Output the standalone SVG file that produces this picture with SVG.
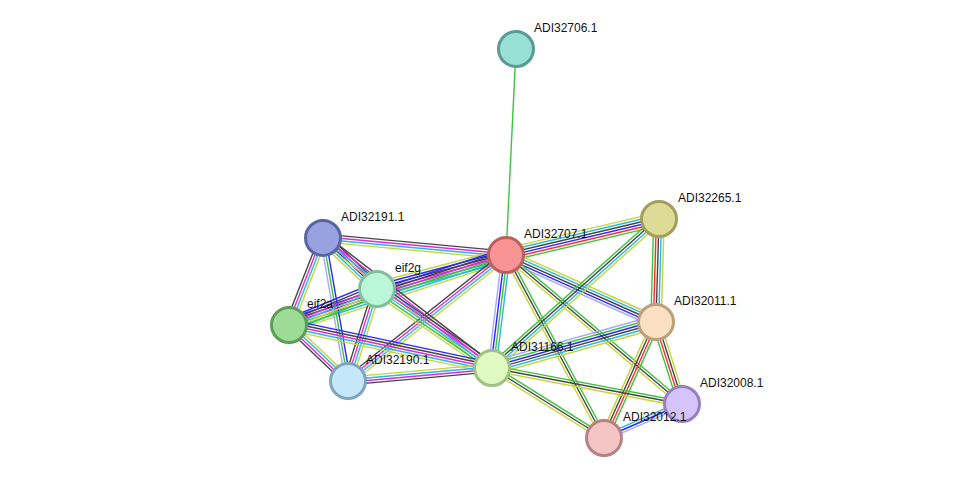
<svg xmlns="http://www.w3.org/2000/svg" width="975" height="484" viewBox="0 0 975 484">
<style>
line{stroke-width:1.4;fill:none}
.g{stroke:#3cc43c}.r{stroke:#ff2a2a}.b{stroke:#2828ff}.k{stroke:#454545}.m{stroke:#e028e0}.c{stroke:#28b8e0}.y{stroke:#c4d636}.l{stroke:#a8a8ff}
.n circle{stroke-width:3}
text{font-family:"Liberation Sans",Arial,sans-serif;font-size:12px;fill:#111}
</style>
<rect width="975" height="484" fill="#fff"/>
<g id="edges">
<line class="g" x1="506" y1="255" x2="516" y2="49"/>
<g transform="translate(506 255) rotate(-13.24)"><line class="y" x2="157.2" y1="-6.5" y2="-6.5"/><line class="c" x2="157.2" y1="-3.9" y2="-3.9"/><line class="k" x2="157.2" y1="-1.3" y2="-1.3"/><line class="b" x2="157.2" y1="1.3" y2="1.3"/><line class="r" x2="157.2" y1="3.9" y2="3.9"/><line class="g" x2="157.2" y1="6.5" y2="6.5"/></g>
<g transform="translate(506 255) rotate(24.07)"><line class="y" x2="164.3" y1="-5.2" y2="-5.2"/><line class="c" x2="164.3" y1="-2.6" y2="-2.6"/><line class="k" x2="164.3" y1="0" y2="0"/><line class="b" x2="164.3" y1="2.6" y2="2.6"/><line class="l" x2="164.3" y1="5.2" y2="5.2"/></g>
<g transform="translate(506 255) rotate(40.25)"><line class="g" x2="230.6" y1="-2.6" y2="-2.6"/><line class="k" x2="230.6" y1="0" y2="0"/><line class="y" x2="230.6" y1="2.6" y2="2.6"/></g>
<g transform="translate(506 255) rotate(61.83)"><line class="g" x2="207.6" y1="-2.6" y2="-2.6"/><line class="k" x2="207.6" y1="0" y2="0"/><line class="y" x2="207.6" y1="2.6" y2="2.6"/></g>
<g transform="translate(506 255) rotate(97.06)"><line class="c" x2="113.9" y1="-3.9" y2="-3.9"/><line class="g" x2="113.9" y1="-1.3" y2="-1.3"/><line class="b" x2="113.9" y1="1.3" y2="1.3"/><line class="l" x2="113.9" y1="3.9" y2="3.9"/></g>
<g transform="translate(323 238) rotate(5.31)"><line class="k" x2="183.8" y1="-3.9" y2="-3.9"/><line class="m" x2="183.8" y1="-1.3" y2="-1.3"/><line class="c" x2="183.8" y1="1.3" y2="1.3"/><line class="y" x2="183.8" y1="3.9" y2="3.9"/></g>
<g transform="translate(377 289) rotate(-14.77)"><line class="y" x2="133.4" y1="-6.5" y2="-6.5"/><line class="b" x2="133.4" y1="-3.9" y2="-3.9"/><line class="k" x2="133.4" y1="-1.3" y2="-1.3"/><line class="m" x2="133.4" y1="1.3" y2="1.3"/><line class="g" x2="133.4" y1="3.9" y2="3.9"/><line class="c" x2="133.4" y1="6.5" y2="6.5"/></g>
<g transform="translate(289 325) rotate(-17.88)"><line class="b" x2="228" y1="-6.5" y2="-6.5"/><line class="k" x2="228" y1="-3.9" y2="-3.9"/><line class="m" x2="228" y1="-1.3" y2="-1.3"/><line class="g" x2="228" y1="1.3" y2="1.3"/><line class="c" x2="228" y1="3.9" y2="3.9"/><line class="y" x2="228" y1="6.5" y2="6.5"/></g>
<g transform="translate(348 381) rotate(-38.57)"><line class="k" x2="202.1" y1="-3.9" y2="-3.9"/><line class="m" x2="202.1" y1="-1.3" y2="-1.3"/><line class="c" x2="202.1" y1="1.3" y2="1.3"/><line class="y" x2="202.1" y1="3.9" y2="3.9"/></g>
<g transform="translate(492 368) rotate(-41.74)"><line class="g" x2="223.8" y1="-3.9" y2="-3.9"/><line class="k" x2="223.8" y1="-1.3" y2="-1.3"/><line class="c" x2="223.8" y1="1.3" y2="1.3"/><line class="y" x2="223.8" y1="3.9" y2="3.9"/></g>
<g transform="translate(659 219) rotate(91.67)"><line class="y" x2="103" y1="-5.2" y2="-5.2"/><line class="c" x2="103" y1="-2.6" y2="-2.6"/><line class="k" x2="103" y1="0" y2="0"/><line class="r" x2="103" y1="2.6" y2="2.6"/><line class="g" x2="103" y1="5.2" y2="5.2"/></g>
<g transform="translate(492 368) rotate(-15.67)"><line class="l" x2="170.3" y1="-6.5" y2="-6.5"/><line class="g" x2="170.3" y1="-3.9" y2="-3.9"/><line class="b" x2="170.3" y1="-1.3" y2="-1.3"/><line class="k" x2="170.3" y1="1.3" y2="1.3"/><line class="c" x2="170.3" y1="3.9" y2="3.9"/><line class="y" x2="170.3" y1="6.5" y2="6.5"/></g>
<g transform="translate(656 322) rotate(114.15)"><line class="g" x2="127.1" y1="-3.9" y2="-3.9"/><line class="r" x2="127.1" y1="-1.3" y2="-1.3"/><line class="k" x2="127.1" y1="1.3" y2="1.3"/><line class="y" x2="127.1" y1="3.9" y2="3.9"/></g>
<g transform="translate(656 322) rotate(72.41)"><line class="y" x2="86" y1="-3.9" y2="-3.9"/><line class="k" x2="86" y1="-1.3" y2="-1.3"/><line class="r" x2="86" y1="1.3" y2="1.3"/><line class="g" x2="86" y1="3.9" y2="3.9"/></g>
<g transform="translate(492 368) rotate(10.73)"><line class="g" x2="193.4" y1="-2.6" y2="-2.6"/><line class="k" x2="193.4" y1="0" y2="0"/><line class="y" x2="193.4" y1="2.6" y2="2.6"/></g>
<g transform="translate(492 368) rotate(32.01)"><line class="g" x2="132.1" y1="-2.6" y2="-2.6"/><line class="k" x2="132.1" y1="0" y2="0"/><line class="y" x2="132.1" y1="2.6" y2="2.6"/></g>
<g transform="translate(604 438) rotate(-23.55)"><line class="c" x2="85.1" y1="-2.6" y2="-2.6"/><line class="b" x2="85.1" y1="0" y2="0"/><line class="l" x2="85.1" y1="2.6" y2="2.6"/></g>
<g transform="translate(323 238) rotate(43.36)"><line class="k" x2="74.3" y1="-5.2" y2="-5.2"/><line class="m" x2="74.3" y1="-2.6" y2="-2.6"/><line class="b" x2="74.3" y1="0" y2="0"/><line class="c" x2="74.3" y1="2.6" y2="2.6"/><line class="y" x2="74.3" y1="5.2" y2="5.2"/></g>
<g transform="translate(323 238) rotate(111.34)"><line class="y" x2="93.4" y1="-3.9" y2="-3.9"/><line class="c" x2="93.4" y1="-1.3" y2="-1.3"/><line class="m" x2="93.4" y1="1.3" y2="1.3"/><line class="k" x2="93.4" y1="3.9" y2="3.9"/></g>
<g transform="translate(323 238) rotate(80.08)"><line class="b" x2="145.2" y1="-2.6" y2="-2.6"/><line class="g" x2="145.2" y1="0" y2="0"/><line class="l" x2="145.2" y1="2.6" y2="2.6"/></g>
<g transform="translate(323 238) rotate(37.57)"><line class="k" x2="213.2" y1="-3.9" y2="-3.9"/><line class="m" x2="213.2" y1="-1.3" y2="-1.3"/><line class="c" x2="213.2" y1="1.3" y2="1.3"/><line class="y" x2="213.2" y1="3.9" y2="3.9"/></g>
<g transform="translate(289 325) rotate(-22.25)"><line class="b" x2="95.1" y1="-6.5" y2="-6.5"/><line class="k" x2="95.1" y1="-3.9" y2="-3.9"/><line class="m" x2="95.1" y1="-1.3" y2="-1.3"/><line class="c" x2="95.1" y1="1.3" y2="1.3"/><line class="y" x2="95.1" y1="3.9" y2="3.9"/><line class="g" x2="95.1" y1="6.5" y2="6.5"/></g>
<g transform="translate(377 289) rotate(107.5)"><line class="y" x2="96.5" y1="-3.9" y2="-3.9"/><line class="c" x2="96.5" y1="-1.3" y2="-1.3"/><line class="m" x2="96.5" y1="1.3" y2="1.3"/><line class="k" x2="96.5" y1="3.9" y2="3.9"/></g>
<g transform="translate(377 289) rotate(34.49)"><line class="k" x2="139.5" y1="-5.2" y2="-5.2"/><line class="m" x2="139.5" y1="-2.6" y2="-2.6"/><line class="c" x2="139.5" y1="0" y2="0"/><line class="g" x2="139.5" y1="2.6" y2="2.6"/><line class="y" x2="139.5" y1="5.2" y2="5.2"/></g>
<g transform="translate(289 325) rotate(43.51)"><line class="y" x2="81.3" y1="-3.9" y2="-3.9"/><line class="c" x2="81.3" y1="-1.3" y2="-1.3"/><line class="m" x2="81.3" y1="1.3" y2="1.3"/><line class="k" x2="81.3" y1="3.9" y2="3.9"/></g>
<g transform="translate(289 325) rotate(11.96)"><line class="b" x2="207.5" y1="-5.2" y2="-5.2"/><line class="k" x2="207.5" y1="-2.6" y2="-2.6"/><line class="m" x2="207.5" y1="0" y2="0"/><line class="c" x2="207.5" y1="2.6" y2="2.6"/><line class="y" x2="207.5" y1="5.2" y2="5.2"/></g>
<g transform="translate(348 381) rotate(-5.16)"><line class="y" x2="144.6" y1="-3.9" y2="-3.9"/><line class="c" x2="144.6" y1="-1.3" y2="-1.3"/><line class="m" x2="144.6" y1="1.3" y2="1.3"/><line class="k" x2="144.6" y1="3.9" y2="3.9"/></g>
</g>
<g id="ADI32706.1" class="n"><circle cx="516" cy="49" r="17.5" fill="#98e0d6" stroke="#5a9c94"/><text x="534" y="32">ADI32706.1</text></g>
<g id="ADI32707.1" class="n"><circle cx="506" cy="255" r="17.5" fill="#fa9494" stroke="#c05e5e"/><text x="524" y="238">ADI32707.1</text></g>
<g id="ADI32265.1" class="n"><circle cx="659" cy="219" r="17.5" fill="#dcdc96" stroke="#a0a05c"/><text x="678" y="202">ADI32265.1</text></g>
<g id="ADI32191.1" class="n"><circle cx="323" cy="238" r="17.5" fill="#98a2e0" stroke="#5a64a0"/><text x="341" y="221">ADI32191.1</text></g>
<g id="eif2g" class="n"><circle cx="377" cy="289" r="17.5" fill="#bcf6d8" stroke="#80c09e"/><text x="395" y="272">eif2g</text></g>
<g id="eif2a" class="n"><circle cx="289" cy="325" r="17.5" fill="#9cdc96" stroke="#5e9c5a"/><text x="307" y="308">eif2a</text></g>
<g id="ADI32190.1" class="n"><circle cx="348" cy="381" r="17.5" fill="#c4e8fa" stroke="#7ea6c0"/><text x="366" y="364">ADI32190.1</text></g>
<g id="ADI31166.1" class="n"><circle cx="492" cy="368" r="17.5" fill="#e0fac4" stroke="#a0c084"/><text x="511" y="351">ADI31166.1</text></g>
<g id="ADI32011.1" class="n"><circle cx="656" cy="322" r="17.5" fill="#fce0c4" stroke="#bca07e"/><text x="674" y="305">ADI32011.1</text></g>
<g id="ADI32008.1" class="n"><circle cx="682" cy="404" r="17.5" fill="#d4c4fa" stroke="#9880c0"/><text x="700" y="387">ADI32008.1</text></g>
<g id="ADI32012.1" class="n"><circle cx="604" cy="438" r="17.5" fill="#f6c4c4" stroke="#b48484"/><text x="623" y="421">ADI32012.1</text></g>
</svg>
